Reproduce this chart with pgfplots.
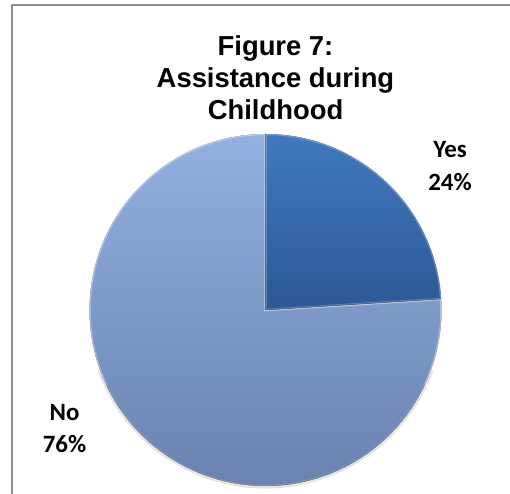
\documentclass[border=0pt]{standalone}
\usepackage{pgfplots}
\pgfplotsset{compat=1.18}
\usepackage{pgfplotstable}
\usepackage{fontspec}
\setmainfont{Liberation Sans}
\newfontfamily\calibri{Carlito}

\definecolor{yestop}{RGB}{64,121,190}
\definecolor{yesbot}{RGB}{44,88,150}
\definecolor{notop}{RGB}{146,176,224}
\definecolor{nobot}{RGB}{106,130,176}
\definecolor{framegray}{RGB}{140,140,140}

\pgfplotstableread{
label value
Yes 24
No 76
}\piedata

\begin{document}
\begin{tikzpicture}[x=1bp,y=1bp]
\useasboundingbox (0,0) rectangle (510,494);
% values from the table
\pgfplotstablegetelem{0}{value}\of\piedata \let\yesval\pgfplotsretval
\pgfplotstablegetelem{1}{value}\of\piedata \let\noval\pgfplotsretval
\pgfmathsetmacro\yesstart{90-3.6*\yesval}
\pgfmathsetmacro\noend{90+3.6*\noval}
\def\cx{265.5}\def\cy{184}\def\R{176bp}
\begin{axis}[
  at={(0,0)}, anchor=south west,
  scale only axis, width=510bp, height=494bp,
  xmin=0, xmax=510, ymin=0, ymax=494,
  hide axis, clip=false]
% soft shadow under the pie
\draw[black, opacity=0.12, line width=3bp]
  (axis cs:\cx,\cy) ++(200:177bp) arc[start angle=200, end angle=340, radius=177bp];
% No slice
\fill[top color=notop, bottom color=nobot]
  (axis cs:\cx,\cy) -- ++(90:\R) arc[start angle=90, end angle=\noend, radius=\R] -- cycle;
\draw[white, opacity=0.35, line width=2.5bp]
  (axis cs:\cx,\cy) -- ++(90:\R) arc[start angle=90, end angle=\noend, radius=\R] -- cycle;
% Yes slice
\fill[top color=yestop, bottom color=yesbot]
  (axis cs:\cx,\cy) -- ++(\yesstart:\R) arc[start angle=\yesstart, end angle=90, radius=\R] -- cycle;
\draw[white, opacity=0.25, line width=2.5bp]
  (axis cs:\cx,\cy) -- ++(\yesstart:\R) arc[start angle=\yesstart, end angle=90, radius=\R] -- cycle;
\draw[black, opacity=0.25, line width=0.8bp]
  (axis cs:\cx,\cy) -- ++(\yesstart:\R) (axis cs:\cx,\cy) -- ++(90:\R);
% darker rim at the bottom
\draw[black, opacity=0.2, line width=1.2bp]
  (axis cs:\cx,\cy) ++(205:175.5bp) arc[start angle=205, end angle=335, radius=175.5bp];
\end{axis}
% frame (only left and top visible)
\draw[framegray, line width=1.5bp] (12,-5) -- (12,489) -- (520,489);
% title
\begin{scope}[every node/.style={anchor=base, inner sep=0pt, font=\bfseries\fontsize{27.5}{32}\selectfont}]
\node at (275.5,438) {Figure 7:};
\node at (275.5,406) {Assistance during};
\node at (275.5,374) {Childhood};
\end{scope}
% data labels
\begin{scope}[every node/.style={anchor=base, inner sep=0pt, font=\calibri\bfseries\fontsize{25}{32}\selectfont}]
\node at (450,336) {Yes};
\node at (450,303) {24\%};
\node at (64.5,73) {No};
\node at (64.5,41) {76\%};
\end{scope}
\end{tikzpicture}
\end{document}
